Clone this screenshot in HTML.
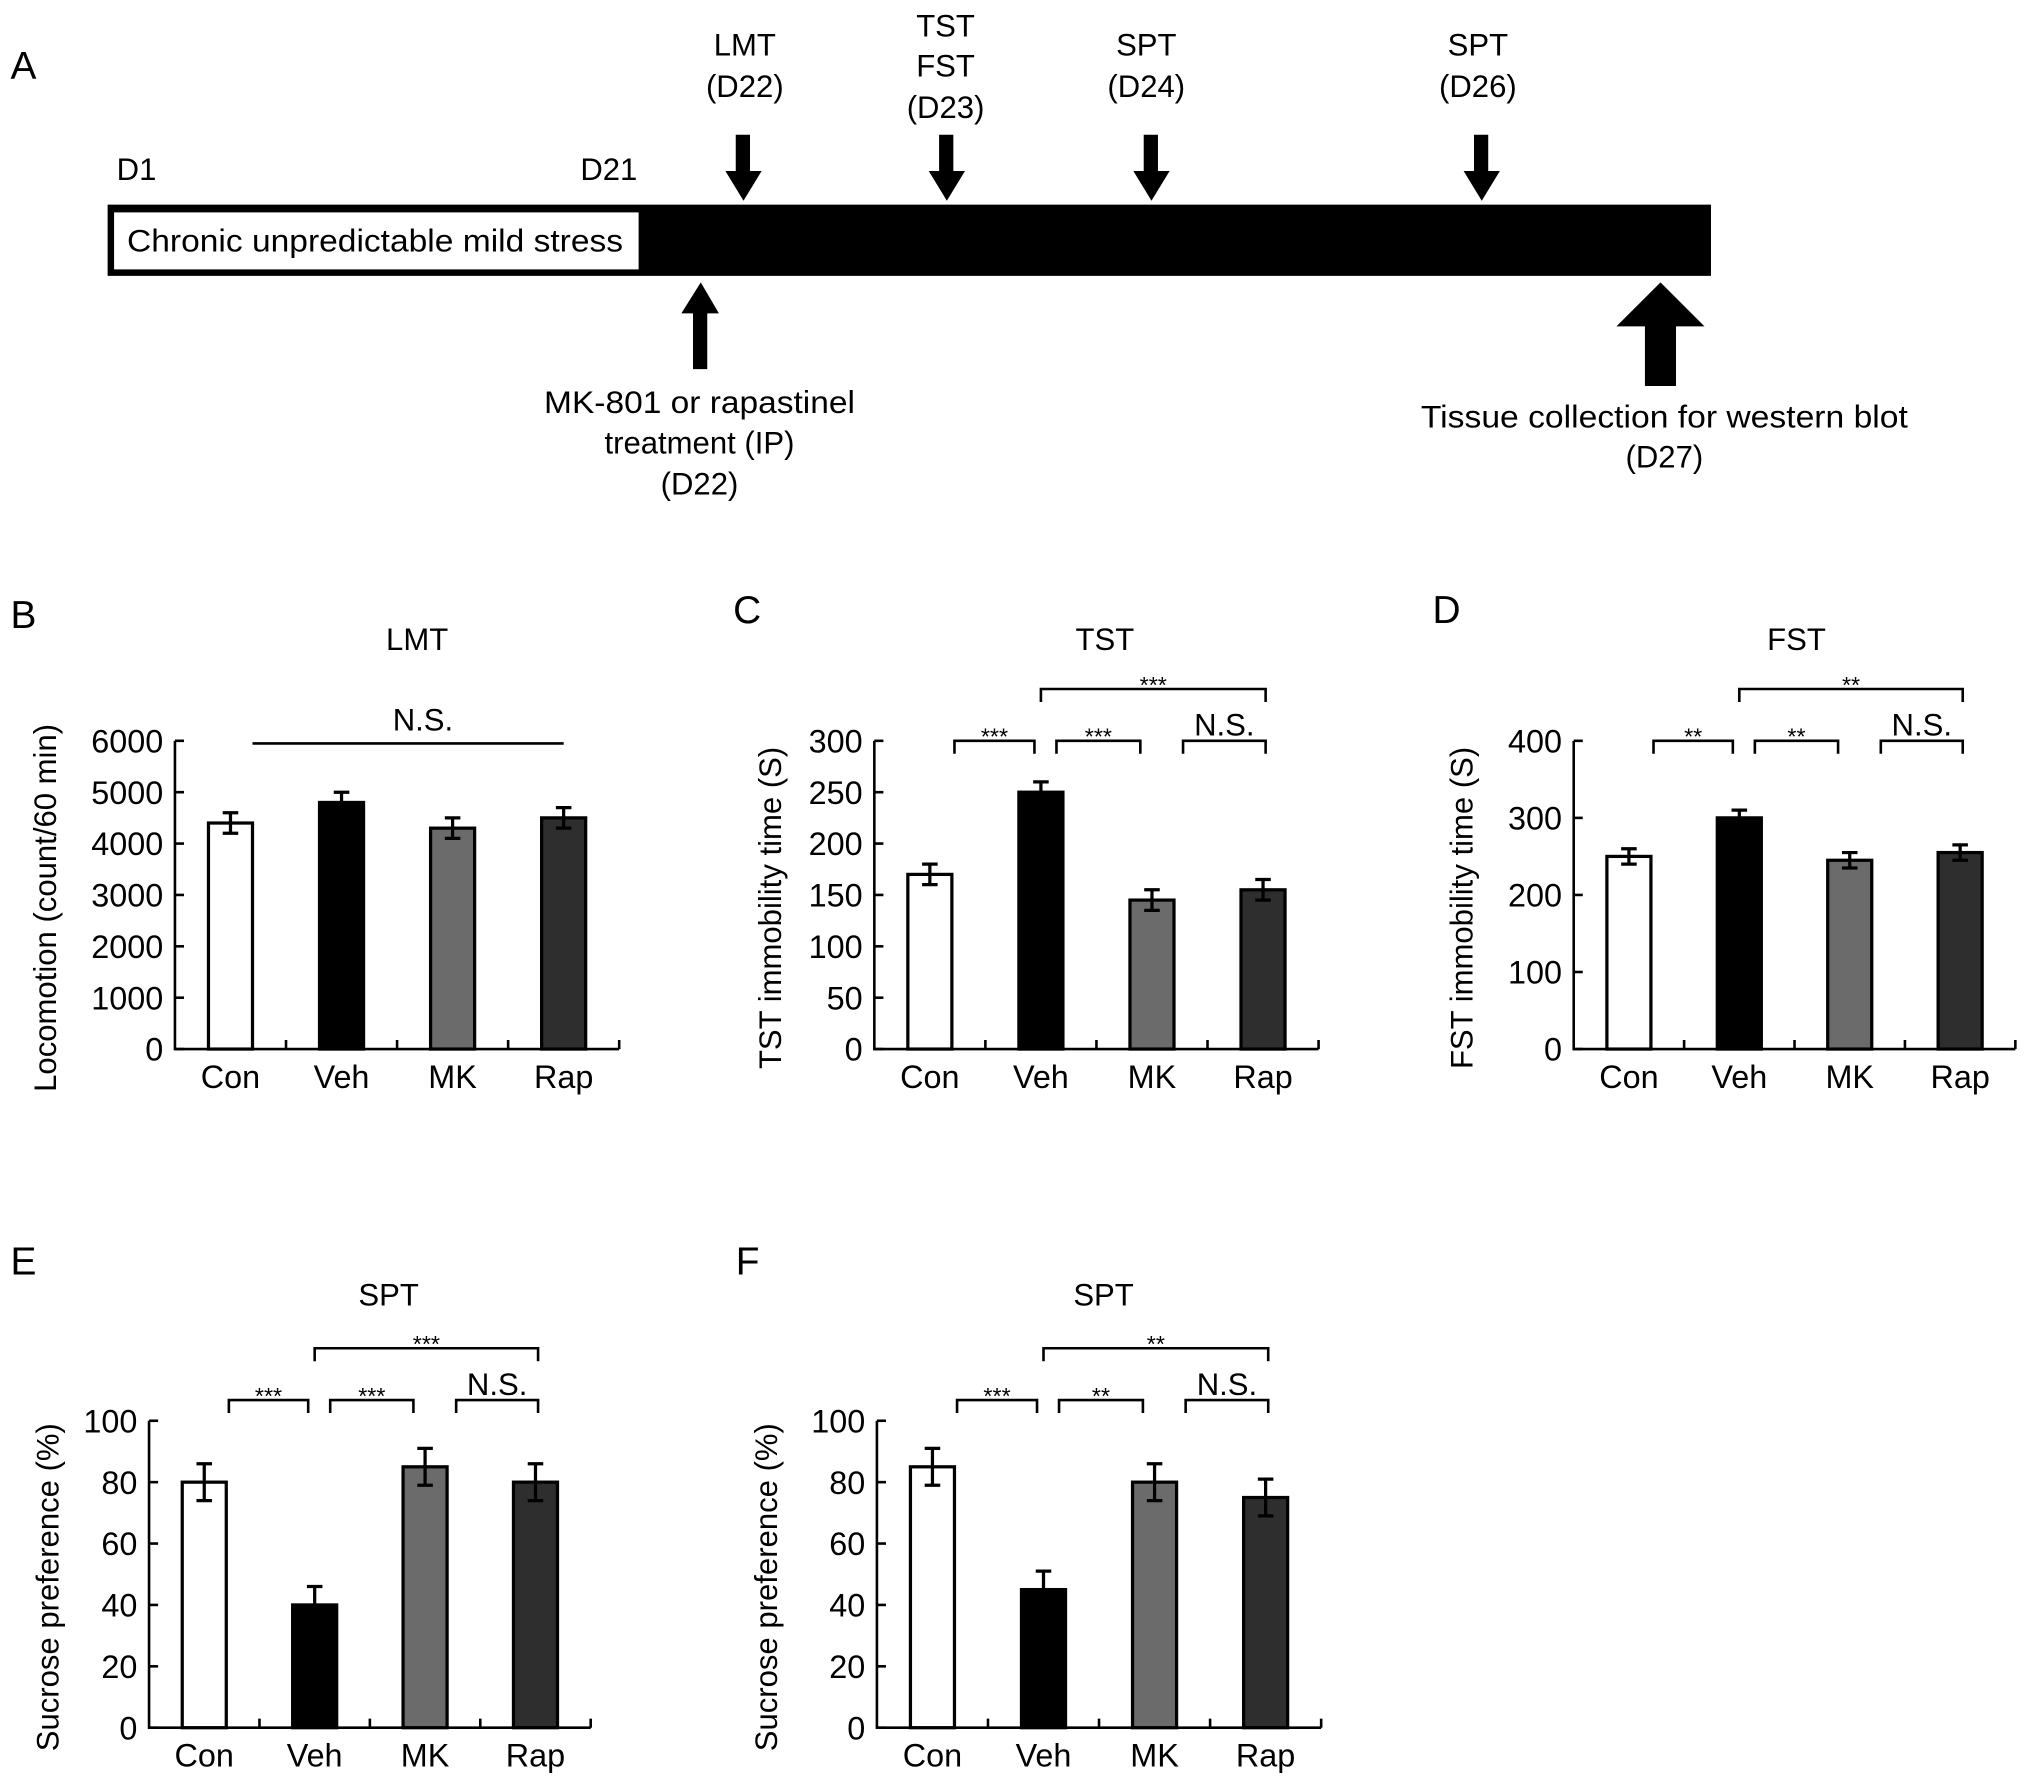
<!DOCTYPE html>
<html><head><meta charset="utf-8"><style>
html,body{margin:0;padding:0;background:#fff;}
svg{display:block;font-family:"Liberation Sans",Arial,sans-serif;}
</style></head><body>
<svg id="fig" width="2031" height="1786" viewBox="0 0 1568 1379" xmlns="http://www.w3.org/2000/svg">
<g fill="#000">
  <text x="8" y="61" font-size="30">A</text>
  <rect x="83" y="158" width="1238" height="55"/>
  <rect x="88" y="164" width="405" height="44" fill="#fff"/>
  <text x="98" y="194" font-size="24" textLength="383" lengthAdjust="spacingAndGlyphs">Chronic unpredictable mild stress</text>
  <text x="90" y="139" font-size="24">D1</text>
  <text x="448" y="139" font-size="24">D21</text>
  <g font-size="24" text-anchor="middle">
    <text x="575" y="43">LMT</text>
    <text x="575" y="75">(D22)</text>
    <text x="730" y="28">TST</text>
    <text x="730" y="59">FST</text>
    <text x="730" y="91">(D23)</text>
    <text x="885" y="43">SPT</text>
    <text x="885" y="75">(D24)</text>
    <text x="1141" y="43">SPT</text>
    <text x="1141" y="75">(D26)</text>
    <text x="540" y="319" textLength="240" lengthAdjust="spacingAndGlyphs">MK-801 or rapastinel</text>
    <text x="540" y="350">treatment (IP)</text>
    <text x="540" y="382">(D22)</text>
    <text x="1285" y="330" textLength="376" lengthAdjust="spacingAndGlyphs">Tissue collection for western blot</text>
    <text x="1285" y="361">(D27)</text>
  </g>
  <path d="M568,104h11v28h9l-14,23l-14,-23h8z"/>
  <path d="M725,104h11v28h9l-14,23l-14,-23h8z"/>
  <path d="M883,104h11v28h9l-14,23l-14,-23h8z"/>
  <path d="M1138,104h11v28h9l-14,23l-14,-23h8z"/>
  <path d="M541,218l14,24h-9v43h-11v-43h-9z"/>
  <path d="M1282,218l34,34h-22v46h-24v-46h-22z"/>
</g>
<g id="charts"></g>
</svg>
<script>
const categories = ["Con","Veh","MK","Rap"];
const colors = ["#ffffff","#000000","#6b6b6b","#2e2e2e"];
const valsB = [4400,4800,4300,4500];
const errB = [200,200,200,200];
const ticksB = [0,1000,2000,3000,4000,5000,6000];
const valsC = [170,250,145,155];
const errC = [10,10,10,10];
const ticksC = [0,50,100,150,200,250,300];
const valsD = [250,300,245,255];
const errD = [10,10,10,10];
const ticksD = [0,100,200,300,400];
const valsE = [80,40,85,80];
const errE = [6,6,6,6];
const ticksE = [0,20,40,60,80,100];
const valsF = [85,45,80,75];
const errF = [6,6,6,6];
const ticksF = [0,20,40,60,80,100];
const sigC = [[0,1,"***",0],[1,2,"***",0],[2,3,"N.S.",0],[1,3,"***",1]];
const sigD = [[0,1,"**",0],[1,2,"**",0],[2,3,"N.S.",0],[1,3,"**",1]];
const sigE = [[0,1,"***",0],[1,2,"***",0],[2,3,"N.S.",0],[1,3,"***",1]];
const sigF = [[0,1,"***",0],[1,2,"**",0],[2,3,"N.S.",0],[1,3,"**",1]];

const NS="http://www.w3.org/2000/svg";
const root=document.getElementById('charts');
function mk(tag,attrs,parent){const e=document.createElementNS(NS,tag);for(const k in attrs)e.setAttribute(k,attrs[k]);parent.appendChild(e);return e;}

function panel(o){
  const g=mk('g',{},root);
  
  
  const x0=o.x0,x1=o.x1,yT=o.yT,yB=o.yB;
  const vmax=o.ticks[o.ticks.length-1];
  const sy=v=>yB-(v/vmax)*(yB-yT);
  const step=(x1-x0)/categories.length;
  const cx=i=>x0+step*(i+0.5);
  const lbl=mk('text',{x:o.lx,y:o.ly,'font-size':30},g);lbl.textContent=o.id.toUpperCase();
  
  
  const t=mk('text',{x:o.tx,y:o.ty,'font-size':24,'text-anchor':'middle'},g);t.textContent=o.title;
  
  
  o.vals.forEach((v,i)=>{
    const bw=34;
    const r=mk('rect',{x:cx(i)-bw/2,y:sy(v),width:bw,height:yB-sy(v),fill:colors[i],stroke:'#000','stroke-width':2.5},g);
    
    
    const e=o.err[i];
    const eb=mk('path',{d:`M${cx(i)},${sy(v+e)}V${sy(v-e)}M${cx(i)-6},${sy(v+e)}h12M${cx(i)-6},${sy(v-e)}h12`,stroke:'#000','stroke-width':2.5,fill:'none'},g);
    
    
    const cl=mk('text',{x:cx(i),y:yB+30,'font-size':25,'text-anchor':'middle'},g);cl.textContent=categories[i];
    
    
  });
  const ax=mk('path',{d:`M${x0},${yT}V${yB}H${x1}`,stroke:'#000','stroke-width':2,fill:'none'},g);
  
  
  for(let i=1;i<=categories.length;i++){
    const tk=mk('line',{x1:x0+step*i,x2:x0+step*i,y1:yB,y2:yB-7,stroke:'#000','stroke-width':2},g);
    
    
  }
  o.ticks.forEach(v=>{
    const tk=mk('line',{x1:x0,x2:x0+7,y1:sy(v),y2:sy(v),stroke:'#000','stroke-width':2},g);
    
    
    const tl=mk('text',{x:x0-9,y:sy(v)+9,'font-size':25,'text-anchor':'end'},g);tl.textContent=v;
    
    
  });
  const yl=mk('text',{x:0,y:0,'font-size':24,'text-anchor':'middle',transform:`translate(${o.ylx},${(yT+yB)/2+10}) rotate(-90)`},g);yl.textContent=o.ylabel;
  
  
  if(o.ns){
    const l=mk('line',{x1:cx(0)+17,x2:cx(3),y1:yT+2,y2:yT+2,stroke:'#000','stroke-width':2},g);
    
    
    const s=mk('text',{x:(cx(0)+cx(3))/2+20,y:yT-8,'font-size':24,'text-anchor':'middle'},g);s.textContent='N.S.';
    
    
  }
  (o.sig||[]).forEach(s=>{
    const [a,b,txt,lev]=s;
    let xa,xb,yy;
    if(lev){xa=cx(a);xb=cx(b)+2;yy=yT+o.sOff-40;}
    else if(txt==='N.S.'){xa=cx(a)+24;xb=cx(b)+2;yy=yT+o.sOff;}
    else{xa=cx(a)+(a===0?19:12);xb=cx(b)-(b===1?5:9);yy=yT+o.sOff;}
    const p=mk('path',{d:`M${xa},${yy+10}V${yy}H${xb}V${yy+10}`,stroke:'#000','stroke-width':2,fill:'none'},g);
    
    
    const st=mk('text',{x:(xa+xb)/2,y:txt==='N.S.'?yy-4:yy+3,'font-size':txt==='N.S.'?24:18,'text-anchor':'middle'},g);st.textContent=txt;
    
    
  });
}
panel({id:'b',x0:135,x1:478,yT:572,yB:810,vals:valsB,err:errB,ticks:ticksB,title:'LMT',tx:322,ty:502,lx:8,ly:485,ylx:43,ylabel:'Locomotion (count/60 min)',ns:true});
panel({id:'c',x0:675,x1:1018,yT:572,yB:810,vals:valsC,err:errC,ticks:ticksC,title:'TST',tx:853,ty:502,lx:566,ly:481,ylx:603,ylabel:'TST immobility time (S)',sig:sigC,sOff:0});
panel({id:'d',x0:1215,x1:1556,yT:572,yB:810,vals:valsD,err:errD,ticks:ticksD,title:'FST',tx:1387,ty:502,lx:1106,ly:481,ylx:1137,ylabel:'FST immobility time (S)',sig:sigD,sOff:0});
panel({id:'e',x0:115,x1:456,yT:1097,yB:1334,vals:valsE,err:errE,ticks:ticksE,title:'SPT',tx:300,ty:1008,lx:8,ly:984,ylx:45,ylabel:'Sucrose preference (%)',sig:sigE,sOff:-16});
panel({id:'f',x0:677,x1:1020,yT:1097,yB:1334,vals:valsF,err:errF,ticks:ticksF,title:'SPT',tx:852,ty:1008,lx:568,ly:984,ylx:600,ylabel:'Sucrose preference (%)',sig:sigF,sOff:-16});
</script>
</body></html>
